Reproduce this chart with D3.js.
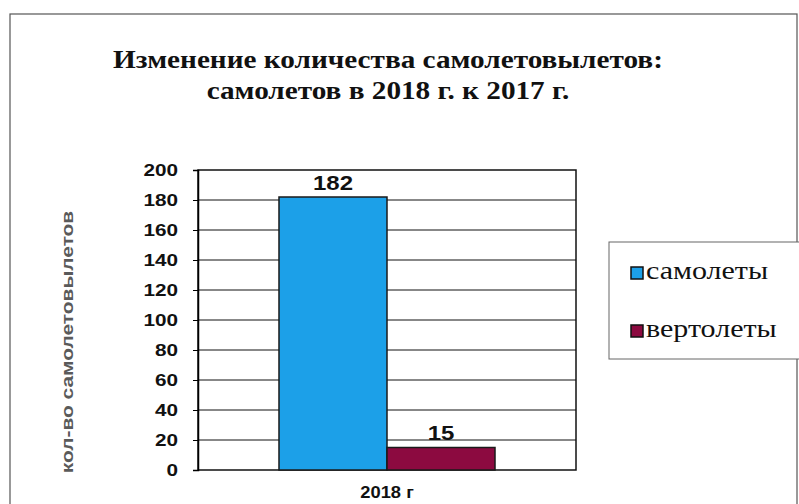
<!DOCTYPE html>
<html>
<head>
<meta charset="utf-8">
<script src="https://cdn.jsdelivr.net/npm/d3@7"></script>
<style>
  body { margin: 0; background: #fff; }
  svg { display: block; }
  .axis path, .axis line { stroke: #000; }
  .axis text { font-family: "Liberation Sans", Arial, sans-serif; font-weight: bold; font-size: 17px; fill: #111; }
</style>
</head>
<body>
<svg id="chart" width="799" height="504"></svg>
<script>
// data
const categories = ["2018 г"]
const seriesNames = ["самолеты", "вертолеты"]
const samolety = [182]
const vertolety = [15]
const yTicks = [0, 20, 40, 60, 80, 100, 120, 140, 160, 180, 200]
const titleLines = ["Изменение количества самолетовылетов:", "самолетов в 2018 г. к 2017 г."]
const yTitle = "кол-во самолетовылетов"

const colors = ["#1ca0e8", "#8c0a40"]
const values = [samolety, vertolety]

const svg = d3.select("#chart")
const plot = {left: 198, right: 576, top: 170, bottom: 470}

// the scanned chart is a bit wider than tall, so text gets stretched sideways
function stretch(sel, k) {
    sel.attr("transform", function () {
        const x = +d3.select(this).attr("x") || 0
        return "translate(" + x + ",0) scale(" + k + ",1) translate(" + (-x) + ",0)"
    })
}

// outer frame
svg.append("rect")
    .attr("x", 10).attr("y", 14)
    .attr("width", 787).attr("height", 500)
    .attr("fill", "none").attr("stroke", "#555").attr("stroke-width", 1.2)

// title
svg.append("text")
    .attr("x", 388).attr("text-anchor", "middle")
    .style("font-family", "'Liberation Serif', 'Times New Roman', serif")
    .style("font-weight", "bold").style("font-size", "25px").attr("fill", "#111")
    .call(stretch, 1.17)
    .selectAll("tspan").data(titleLines).join("tspan")
    .attr("x", 388).attr("y", (d, i) => 68 + i * 31)
    .text(d => d)

const x0 = d3.scaleBand().domain(categories).range([plot.left, plot.right]).padding(0.2727)
const x1 = d3.scaleBand().domain(seriesNames).range([0, x0.bandwidth()])
const y = d3.scaleLinear().domain([0, 200]).range([plot.bottom, plot.top])

// gridlines
svg.append("g")
    .selectAll("line").data(yTicks.filter(d => d > 0 && d < 200)).join("line")
    .attr("x1", plot.left).attr("x2", plot.right)
    .attr("y1", d => y(d)).attr("y2", d => y(d))
    .attr("stroke", "#111").attr("stroke-width", 1)

// plot frame
svg.append("rect")
    .attr("x", plot.left).attr("y", plot.top)
    .attr("width", plot.right - plot.left).attr("height", plot.bottom - plot.top)
    .attr("fill", "none").attr("stroke", "#111").attr("stroke-width", 1.5)

// y axis
const yAxis = d3.axisLeft(y).tickValues(yTicks).tickSize(5).tickPadding(15)
svg.append("g")
    .attr("class", "axis")
    .attr("transform", "translate(" + plot.left + ",0)")
    .call(yAxis)
    .call(g => g.select(".domain").attr("stroke-width", 1.5))
    .selectAll(".tick text").call(stretch, 1.22)

// x axis label
svg.append("g")
    .attr("class", "axis")
    .attr("transform", "translate(0," + plot.bottom + ")")
    .call(d3.axisBottom(x0).tickSize(0).tickPadding(16))
    .call(g => g.select(".domain").remove())
    .selectAll("text").style("font-size", "17px").call(stretch, 1.08)

// y axis title
svg.append("text")
    .attr("transform", "translate(73,342) rotate(-90) scale(1.23,1)")
    .attr("text-anchor", "middle")
    .style("font-family", "'Liberation Sans', Arial, sans-serif")
    .style("font-weight", "bold").style("font-size", "17px")
    .attr("fill", "#5a5a5a")
    .text(yTitle)

// bars
const groups = svg.append("g")
    .selectAll("g").data(categories).join("g")
    .attr("transform", d => "translate(" + x0(d) + ",0)")

groups.selectAll("rect")
    .data((d, i) => seriesNames.map((s, j) => ({s: s, v: values[j][i], c: colors[j]})))
    .join("rect")
    .attr("x", d => x1(d.s))
    .attr("y", d => y(d.v))
    .attr("width", x1.bandwidth())
    .attr("height", d => y(0) - y(d.v))
    .attr("fill", d => d.c)
    .attr("stroke", "#1a1a1a").attr("stroke-width", 1.5)

groups.selectAll("text")
    .data((d, i) => seriesNames.map((s, j) => ({s: s, v: values[j][i]})))
    .join("text")
    .attr("x", d => x1(d.s) + x1.bandwidth() / 2)
    .attr("y", d => y(d.v) - 7)
    .attr("text-anchor", "middle")
    .style("font-family", "'Liberation Sans', Arial, sans-serif")
    .style("font-weight", "bold").style("font-size", "20px")
    .attr("fill", "#111")
    .call(stretch, 1.2)
    .text(d => d.v)

// legend
const legend = svg.append("g").attr("transform", "translate(609,242)")
legend.append("rect")
    .attr("width", 200).attr("height", 117)
    .attr("fill", "#fff").attr("stroke", "#666").attr("stroke-width", 1)

const item = legend.selectAll("g.item").data(seriesNames).join("g")
    .attr("class", "item")
    .attr("transform", (d, i) => "translate(22," + (25 + i * 58) + ")")
item.append("rect")
    .attr("width", 12).attr("height", 12)
    .attr("fill", (d, i) => colors[i])
    .attr("stroke", "#111").attr("stroke-width", 1.5)
item.append("text")
    .attr("x", 15).attr("y", 12)
    .style("font-family", "'Liberation Serif', 'Times New Roman', serif")
    .style("font-size", "25px").attr("fill", "#111")
    .call(stretch, 1.2)
    .text(d => d)
</script>
</body>
</html>
